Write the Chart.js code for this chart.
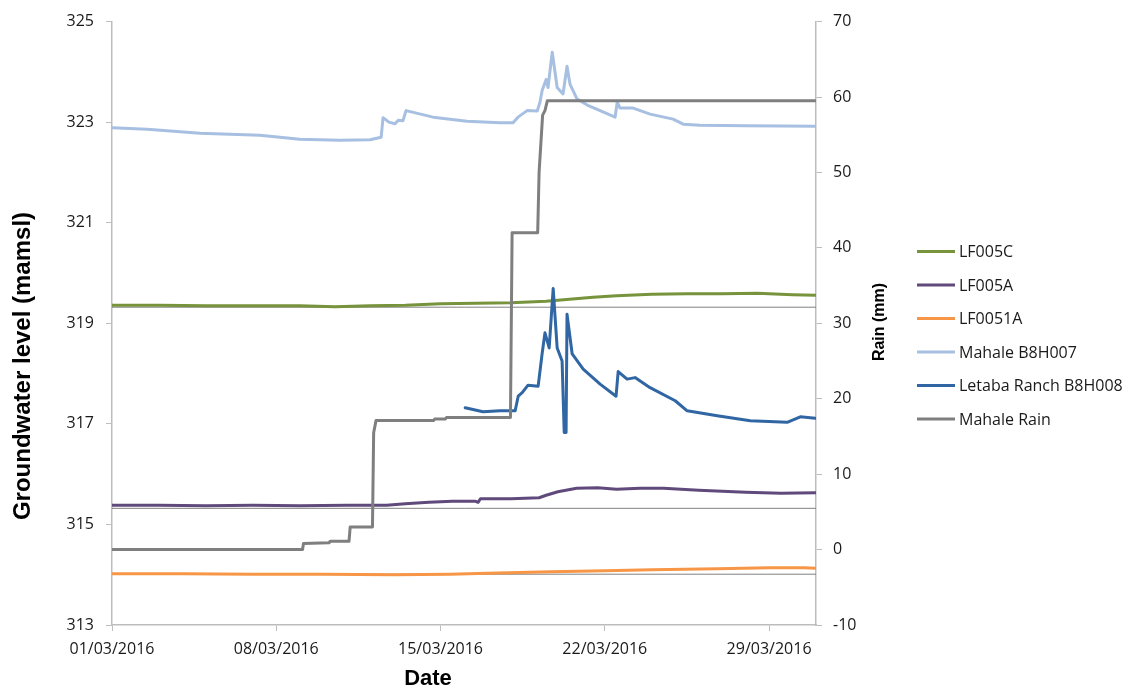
<!DOCTYPE html>
<html>
<head>
<meta charset="utf-8">
<script src="https://cdn.jsdelivr.net/npm/chart.js@4.4.1/dist/chart.umd.min.js"></script>
<style>
  body { margin: 0; background: #fff; }
  canvas { display: block; }
</style>
</head>
<body>
<canvas id="gw_chart" width="1126" height="691"></canvas>
<script>
// x values are days since 01/03/2016
const tickDays = [0, 7, 14, 21, 28];

const lf005cDays = [0, 2, 4, 6, 8, 9.5, 11, 12.5, 14, 15.5, 17, 18.5, 19.5, 20.5, 21.5, 23, 24.5, 26, 27.5, 29, 30];
const lf005cLevels = [319.36, 319.36, 319.35, 319.35, 319.35, 319.33, 319.35, 319.36, 319.39, 319.40, 319.41, 319.44, 319.48, 319.52, 319.55, 319.58, 319.59, 319.59, 319.60, 319.57, 319.56];

const lf005aDays = [0, 2, 4, 6, 8, 10, 11.7, 12.5, 13.5, 14.5, 15.5, 15.6, 15.7, 17, 18.2, 18.5, 19, 19.8, 20.7, 21.5, 22.5, 23.5, 25, 27, 28.5, 30];
const lf005aLevels = [315.38, 315.38, 315.37, 315.38, 315.37, 315.38, 315.38, 315.41, 315.44, 315.46, 315.46, 315.44, 315.51, 315.51, 315.53, 315.58, 315.65, 315.72, 315.73, 315.70, 315.72, 315.72, 315.68, 315.64, 315.62, 315.63];

const lf0051aDays = [0, 3, 6, 9, 12, 14.4, 16, 18.7, 21, 23, 25.8, 28, 29.5, 30];
const lf0051aLevels = [314.02, 314.02, 314.01, 314.01, 314.00, 314.01, 314.03, 314.06, 314.08, 314.10, 314.12, 314.14, 314.14, 314.13];

const mahaleDays = [0, 1.5, 3.75, 6.3, 8.0, 9.7, 11.0, 11.47, 11.55, 11.8, 12.06, 12.2, 12.4, 12.53, 13.68, 15.13, 16.54, 17.09, 17.3, 17.69, 18.12, 18.24, 18.33, 18.5, 18.58, 18.76, 18.97, 19.22, 19.39, 19.52, 19.82, 20.25, 20.8, 21.44, 21.53, 21.65, 22.21, 22.93, 23.91, 24.34, 25.06, 27, 30];
const mahaleLevels = [322.89, 322.86, 322.78, 322.74, 322.66, 322.64, 322.65, 322.70, 323.09, 323.00, 322.97, 323.04, 323.03, 323.23, 323.10, 323.02, 322.99, 322.99, 323.10, 323.23, 323.22, 323.40, 323.63, 323.85, 323.69, 324.39, 323.69, 323.56, 324.11, 323.75, 323.46, 323.34, 323.23, 323.10, 323.40, 323.28, 323.28, 323.16, 323.06, 322.96, 322.94, 322.93, 322.92];

const letabaDays = [15.05, 15.81, 16.54, 17.18, 17.31, 17.48, 17.73, 18.16, 18.33, 18.45, 18.63, 18.8, 18.97, 19.18, 19.27, 19.35, 19.39, 19.61, 20.08, 20.8, 21.48, 21.57, 21.95, 22.29, 22.93, 24.0, 24.51, 25.79, 27.2, 28.77, 29.33, 29.97];
const letabaLevels = [317.32, 317.24, 317.26, 317.26, 317.55, 317.62, 317.77, 317.75, 318.40, 318.81, 318.51, 319.69, 318.51, 318.25, 316.83, 316.83, 319.18, 318.39, 318.09, 317.79, 317.55, 318.04, 317.89, 317.92, 317.72, 317.46, 317.26, 317.16, 317.06, 317.03, 317.14, 317.11];

// cumulative rain, mm
const rainDays = [0, 8.12, 8.16, 9.25, 9.3, 10.1, 10.15, 11.1, 11.15, 11.25, 13.7, 13.75, 14.2, 14.25, 16.98, 17.05, 18.14, 18.2, 18.35, 18.45, 18.55, 30];
const rainTotals = [0, 0, 0.8, 0.9, 1.1, 1.1, 3.0, 3.0, 15.5, 17.1, 17.1, 17.3, 17.3, 17.5, 17.5, 42.0, 42.0, 50.0, 57.6, 58.2, 59.5, 59.5];

// flat reference levels (mamsl)
const refLevels = [319.32, 315.32, 314.01];

const pairs = (xs, ys) => xs.map((x, i) => [x, ys[i]]);
const dayLabel = d => String(d + 1).padStart(2, "0") + "/03/2016";

function series(label, xs, ys, color, axis, order) {
  return {
    label: label,
    data: pairs(xs, ys),
    borderColor: color,
    backgroundColor: color,
    borderWidth: 3,
    yAxisID: axis,
    order: order,
    inLegend: true,
  };
}

const datasets = [
  series("LF005C", lf005cDays, lf005cLevels, "#77933c", "y", 5),
  series("LF005A", lf005aDays, lf005aLevels, "#604a7b", "y", 4),
  series("LF0051A", lf0051aDays, lf0051aLevels, "#f79646", "y", 3),
  series("Mahale B8H007", mahaleDays, mahaleLevels, "#a7bfe1", "y", 2),
  series("Letaba Ranch B8H008", letabaDays, letabaLevels, "#2f66a3", "y", 1),
  series("Mahale Rain", rainDays, rainTotals, "#7f7f7f", "y1", 0),
];
refLevels.forEach(v => {
  datasets.push({
    data: [[0, v], [30, v]],
    borderColor: "#808080",
    borderWidth: 1,
    yAxisID: "y",
    order: 9,
  });
});

const tickFont = { family: "'Open Sans', sans-serif", size: 16 };
const axisGrey = "#bdbdbd";

// axis titles and the side legend
const sideText = {
  id: "sideText",
  afterDraw(chart) {
    const ctx = chart.ctx;
    ctx.save();
    ctx.fillStyle = "#000";
    ctx.textAlign = "center";
    ctx.textBaseline = "middle";

    ctx.font = "bold 22px 'Liberation Sans', Arial, sans-serif";
    ctx.fillText("Date", 428, 679);

    ctx.save();
    ctx.translate(23, 366);
    ctx.rotate(-Math.PI / 2);
    ctx.font = "bold 24px 'Liberation Sans', Arial, sans-serif";
    ctx.fillText("Groundwater level (mamsl)", 0, 0);
    ctx.restore();

    ctx.save();
    ctx.translate(880, 322);
    ctx.rotate(-Math.PI / 2);
    ctx.font = "bold 16px 'Liberation Sans', Arial, sans-serif";
    ctx.fillText("Rain (mm)", 0, 0);
    ctx.restore();

    ctx.textAlign = "left";
    ctx.font = "16px 'Open Sans', sans-serif";
    ctx.fillStyle = "#1a1a1a";
    let y = 251.5;
    chart.data.datasets.filter(ds => ds.inLegend).forEach(ds => {
      ctx.strokeStyle = ds.borderColor;
      ctx.lineWidth = 3;
      ctx.beginPath();
      ctx.moveTo(917, y);
      ctx.lineTo(955, y);
      ctx.stroke();
      ctx.fillText(ds.label, 959, y + 1);
      y += 33.5;
    });
    ctx.restore();
  },
};

new Chart(document.getElementById("gw_chart"), {
  type: "line",
  data: { datasets: datasets },
  plugins: [sideText],
  options: {
    responsive: false,
    animation: false,
    devicePixelRatio: 1,
    layout: { padding: { top: 19, left: 0, right: 0, bottom: 0 } },
    elements: {
      point: { radius: 0 },
      line: { tension: 0, borderCapStyle: "round", borderJoinStyle: "round" },
    },
    plugins: {
      legend: { display: false },
      tooltip: { enabled: false },
    },
    scales: {
      x: {
        type: "linear",
        min: 0,
        max: 30,
        afterBuildTicks: s => { s.ticks = tickDays.map(v => ({ value: v })); },
        afterFit: s => { s.height = 66; },
        ticks: {
          callback: v => dayLabel(v),
          font: tickFont,
          color: "#1a1a1a",
          padding: 9,
          maxRotation: 0,
          autoSkip: false,
        },
        grid: { drawOnChartArea: false, tickLength: 6, color: axisGrey },
        border: { color: axisGrey, width: 1.5 },
      },
      y: {
        position: "left",
        min: 313,
        max: 325,
        afterFit: s => { s.width = 112; },
        ticks: { stepSize: 2, font: tickFont, color: "#1a1a1a", padding: 12 },
        grid: { drawOnChartArea: false, tickLength: 6, color: axisGrey },
        border: { color: axisGrey, width: 1.5 },
      },
      y1: {
        position: "right",
        min: -10,
        max: 70,
        afterFit: s => { s.width = 310; },
        ticks: { stepSize: 10, font: tickFont, color: "#1a1a1a", padding: 11 },
        grid: { drawOnChartArea: false, tickLength: 6, color: axisGrey },
        border: { color: axisGrey, width: 1.5 },
      },
    },
  },
});
</script>
</body>
</html>
